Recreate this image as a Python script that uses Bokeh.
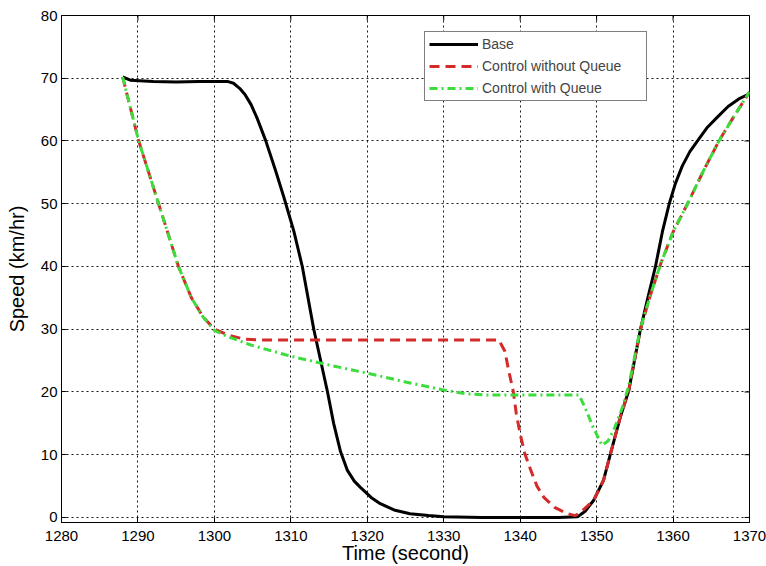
import math
from bokeh.plotting import figure
from bokeh.models import Range1d, FixedTicker, Legend, LegendItem
from bokeh.embed import file_html
from bokeh.resources import INLINE

# ---- data ----
base_t = [1288, 1289, 1292, 1295, 1298, 1301, 1301.7, 1302.5, 1303.3, 1304, 1304.8, 1305.6,
          1306.7, 1308, 1309.1, 1310.4, 1311.5, 1313, 1314.8, 1315.6, 1316.5, 1317.4, 1318.3,
          1319.1, 1320.5, 1321.7, 1323.5, 1325.6, 1328, 1330, 1335, 1340, 1345, 1347.5,
          1348.5, 1349.6, 1350.9, 1351.8, 1353.1, 1354.2, 1355.7, 1356.7, 1357.7, 1358.6,
          1359.5, 1360.3, 1361.2, 1362.2, 1363.2, 1364.5, 1365.8, 1367.2, 1368.6, 1370]
base_v = [70.2, 69.7, 69.5, 69.4, 69.5, 69.5, 69.5, 69.2, 68.4, 67.4, 65.8, 63.6,
          60.1, 55.3, 51.0, 45.6, 40.0, 30.0, 20.0, 15.0, 10.5, 7.5, 5.8,
          4.8, 3.2, 2.2, 1.2, 0.6, 0.3, 0.1, 0.0, 0.0, 0.0, 0.1,
          1.0, 2.7, 5.9, 10.1, 16.0, 20.2, 29.8, 35.0, 40.0, 45.5,
          50.0, 53.2, 56.0, 58.3, 60.0, 62.2, 63.8, 65.5, 66.7, 67.5]

nq_t = [1288, 1290.1, 1292.7, 1295.3, 1297, 1298.5, 1300, 1302, 1304, 1306, 1337.2, 1338,
        1338.5, 1339.1, 1339.5, 1340.0, 1340.6, 1341.4, 1342.2, 1343.1, 1344.5, 1346.2, 1347.2,
        1347.9, 1349.6, 1350.9, 1351.8, 1353.1, 1354.2, 1355.7, 1357, 1358.4, 1360, 1362.1,
        1364, 1366, 1368, 1370]
nq_v = [70.2, 60, 50, 40, 35, 32, 30, 29.0, 28.4, 28.3, 28.3, 26.5,
        23.4, 20.1, 16.5, 13.3, 10.2, 7.5, 5.0, 3.2, 1.6, 0.6, 0.3,
        0.8, 2.7, 5.9, 10.1, 16.0, 20.2, 29.8, 35.3, 40.5, 45.5, 50.5,
        55.3, 60.0, 64.0, 67.8]

q_t = [1288, 1290.1, 1292.7, 1295.3, 1297, 1298.5, 1300, 1302, 1305, 1310, 1315, 1320, 1325,
       1330, 1333, 1336, 1347.7, 1348.5, 1349.5, 1350.7, 1351.5, 1352.3, 1353.4, 1354.2,
       1355.7, 1357, 1358.4, 1360, 1362.1, 1364, 1366, 1368, 1370]
q_v = [70.2, 60, 50, 40, 35, 32, 29.8, 28.7, 27.4, 25.7, 24.3, 23.0, 21.6,
       20.3, 19.7, 19.5, 19.5, 17.5, 14.5, 11.5, 12.2, 14.1, 17.6, 21.0,
       30.0, 35.3, 40.5, 45.5, 50.5, 55.3, 60.0, 64.0, 67.8]

x_ticks = [1280, 1290, 1300, 1310, 1320, 1330, 1340, 1350, 1360, 1370]
y_ticks = [0, 10, 20, 30, 40, 50, 60, 70, 80]
X_MIN, X_MAX = 1280, 1370
Y_MIN, Y_MAX = -0.8, 80
labels = ["Base", "Control without Queue", "Control with Queue"]

FONT = "Liberation Sans"

p = figure(width=766, height=566, output_backend="svg", toolbar_location=None,
           x_range=Range1d(X_MIN, X_MAX), y_range=Range1d(Y_MIN, Y_MAX),
           min_border_left=61, min_border_right=17, min_border_top=15, min_border_bottom=44,
           background_fill_color="white", border_fill_color="white")
p.outline_line_color = "black"
p.outline_line_width = 1

for ax in (p.xaxis[0], p.yaxis[0]):
    ax.major_tick_in = 5
    ax.major_tick_out = 0
    ax.minor_tick_in = 0
    ax.minor_tick_out = 0
    ax.axis_line_color = "black"
    ax.major_tick_line_color = "black"
    ax.major_label_text_font = FONT
    ax.major_label_text_font_size = "15px"
    ax.major_label_text_color = "black"
    ax.axis_label_text_font = FONT
    ax.axis_label_text_font_size = "20px"
    ax.axis_label_text_font_style = "normal"
    ax.axis_label_text_color = "black"

p.xaxis[0].ticker = FixedTicker(ticks=x_ticks)
p.yaxis[0].ticker = FixedTicker(ticks=y_ticks)
p.xaxis[0].axis_label = "Time (second)"
p.yaxis[0].axis_label = "Speed (km/hr)"
p.xaxis[0].major_label_standoff = 8
p.xaxis[0].axis_label_standoff = -2
p.yaxis[0].major_label_standoff = 4
p.yaxis[0].axis_label_standoff = 10

p.xgrid.ticker = FixedTicker(ticks=x_ticks)
p.ygrid.ticker = FixedTicker(ticks=y_ticks)
for g in (p.xgrid, p.ygrid):
    g.grid_line_color = "black"
    g.grid_line_dash = "2 3"
    g.grid_line_width = 1
    g.grid_line_alpha = 0.9

# inward tick marks on the top and right edges of the box
p.ray(x=x_ticks, y=[Y_MAX] * len(x_ticks), length=5, length_units="screen",
      angle=-math.pi / 2, line_color="black", line_width=1)
p.ray(x=[X_MAX] * len(y_ticks), y=y_ticks, length=5, length_units="screen",
      angle=math.pi, line_color="black", line_width=1)

r_base = p.line(base_t, base_v, line_color="black", line_width=3)
r_nq = p.line(nq_t, nq_v, line_color="#d42a2a", line_width=3, line_dash="10 6")
r_q = p.line(q_t, q_v, line_color="#3ddc3d", line_width=3, line_dash="8 4 2 4")

legend = Legend(items=[LegendItem(label=labels[0], renderers=[r_base]),
                       LegendItem(label=labels[1], renderers=[r_nq]),
                       LegendItem(label=labels[2], renderers=[r_q])],
                location=(363, 421))
legend.border_line_color = "black"
legend.border_line_width = 1
legend.background_fill_color = "white"
legend.background_fill_alpha = 1
legend.label_text_font = FONT
legend.label_text_font_size = "14px"
legend.glyph_width = 49
legend.glyph_height = 16
legend.label_height = 16
legend.label_width = 160
legend.label_standoff = 4
legend.spacing = 6
legend.padding = 4
legend.margin = 0
p.add_layout(legend, "center")

open("out.html", "w").write(file_html(p, INLINE))
